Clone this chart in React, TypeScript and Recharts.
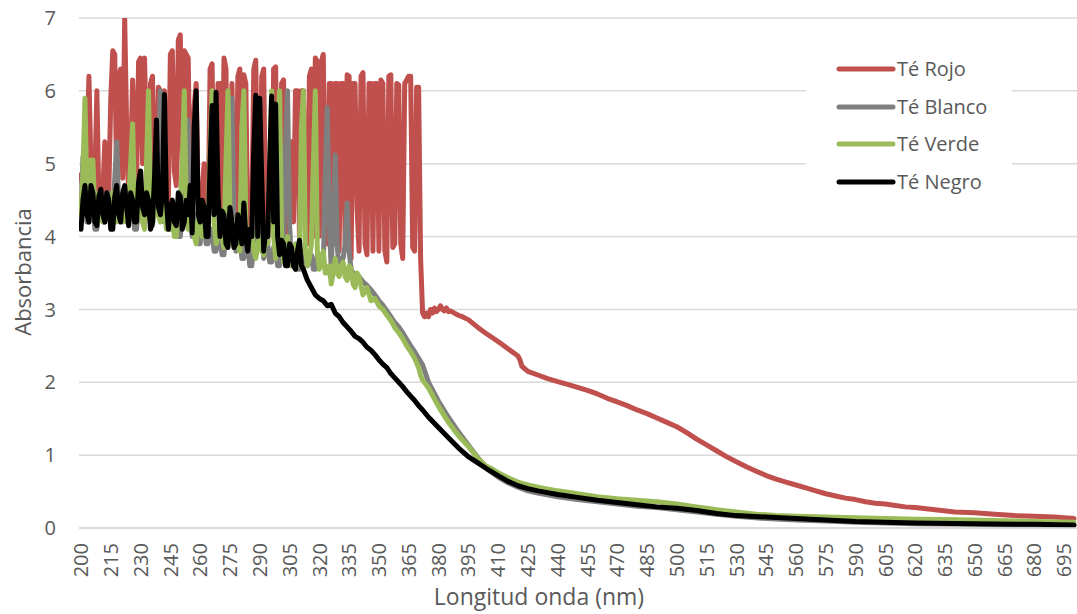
import React from 'react';
import { LineChart, Line, XAxis, YAxis, CartesianGrid, Legend } from 'recharts';

const FONT = '"Open Sans", "Liberation Sans", sans-serif';
const TEXT = '#595959';
const GRID = '#d9d9d9';

// Noisy UV region: one reading per nm starting at 200 nm (rows of ten: 200-209, 210-219, ...)
const noisyStartNm = 200;

const rojoNoisy = [
  4.85, 4.6, 4.5, 5.2, 6.2, 5.0, 4.4, 4.8, 6.0, 4.5,
  4.4, 4.6, 5.3, 4.7, 4.6, 5.9, 6.55, 6.5, 4.7, 6.2,
  6.3, 4.8, 7.0, 5.5, 4.5, 5.0, 6.15, 5.3, 4.8, 6.4,
  6.45, 5.0, 6.45, 5.2, 4.6, 6.1, 6.2, 4.9, 4.7, 6.05,
  6.0, 4.8, 6.0, 5.1, 4.5, 6.5, 6.55, 4.9, 4.7, 6.7,
  6.77, 4.8, 6.55, 6.5, 6.45, 4.6, 4.4, 5.8, 6.1, 4.5,
  4.3, 4.6, 5.0, 4.5, 4.2, 6.3, 6.37, 4.5, 4.4, 6.1,
  6.1, 4.3, 6.45, 6.3, 4.2, 4.4, 6.1, 4.5, 4.1, 6.2,
  6.3, 4.3, 6.22, 6.1, 4.0, 4.5, 4.3, 6.3, 6.42, 4.2,
  4.0, 6.2, 6.3, 4.1, 3.9, 4.6, 4.2, 6.3, 6.33, 4.1,
  4.0, 6.1, 6.15, 4.0, 3.9, 4.3, 5.3, 4.2, 6.0, 6.0,
  4.0, 6.0, 6.0, 4.1, 3.9, 6.2, 6.3, 4.0, 6.45, 6.4,
  4.0, 6.4, 6.5, 4.0, 3.9, 6.1, 6.1, 3.9, 6.1, 6.1,
  3.8, 6.1, 6.1, 3.9, 6.22, 6.2, 3.7, 6.1, 6.1, 4.4,
  3.8, 6.2, 6.25, 3.9, 3.75, 6.1, 6.1, 3.8, 6.1, 6.1,
  3.8, 6.15, 6.1, 3.8, 3.65, 6.2, 6.22, 3.85, 3.9, 6.1,
  6.08, 3.9, 3.7, 6.1, 6.15, 6.2, 6.2, 3.85, 3.8, 6.05,
  6.05,
];

const blancoNoisy = [
  4.3, 5.1, 4.6, 4.2, 4.2, 4.5, 4.5, 4.1, 4.1, 4.4,
  4.4, 4.2, 4.2, 4.6, 4.6, 4.2, 4.2, 4.8, 5.3, 4.4,
  4.3, 4.5, 4.6, 4.2, 4.2, 4.4, 4.4, 4.1, 4.1, 4.5,
  4.5, 4.2, 4.2, 4.6, 4.6, 4.2, 4.15, 4.4, 4.4, 5.2,
  6.0, 4.6, 4.2, 4.4, 4.4, 4.1, 4.1, 4.3, 4.3, 4.0,
  4.0, 4.4, 4.4, 5.0, 5.6, 4.3, 4.0, 4.3, 4.3, 3.9,
  3.9, 4.2, 4.2, 3.9, 3.9, 4.1, 4.1, 3.8, 3.8, 4.0,
  4.0, 3.75, 3.75, 4.1, 4.1, 5.0, 5.9, 4.2, 3.8, 4.0,
  4.0, 3.7, 3.7, 3.9, 3.9, 3.6, 3.6, 3.95, 3.95, 5.0,
  5.9, 4.2, 3.7, 3.9, 3.9, 3.65, 3.65, 3.85, 3.85, 3.6,
  3.6, 3.9, 3.9, 5.2, 6.0, 4.2, 3.6, 3.85, 3.85, 3.55,
  3.55, 3.8, 3.8, 3.6, 3.6, 3.75, 3.75, 3.55, 3.55, 3.75,
  3.75, 3.6, 3.6, 4.8, 5.77, 4.2, 3.55, 4.3, 5.12, 3.9,
  3.5, 3.7, 3.7, 3.9, 4.46, 3.8, 3.55, 3.5, 3.45, 3.45,
];

const verdeNoisy = [
  4.3, 4.9, 5.9, 4.5, 4.4, 5.05, 5.05, 4.3, 4.2, 4.6,
  4.5, 4.2, 4.2, 4.5, 4.4, 4.2, 4.6, 4.4, 4.2, 4.5,
  4.5, 4.2, 4.3, 4.6, 4.5, 5.0, 5.55, 4.4, 4.2, 4.5,
  4.4, 4.2, 4.1, 5.0, 6.0, 4.5, 4.2, 4.3, 4.9, 4.3,
  4.2, 4.5, 4.4, 4.1, 4.1, 4.4, 4.3, 4.0, 4.0, 4.4,
  4.5, 5.0, 6.0, 4.4, 4.1, 4.2, 4.3, 4.0, 3.9, 4.2,
  4.4, 4.0, 4.0, 4.3, 4.2, 5.2, 6.0, 4.2, 3.9, 4.0,
  4.1, 4.0, 3.85, 5.0, 6.0, 4.3, 3.9, 4.0, 4.2, 3.9,
  3.8, 5.5, 6.0, 4.2, 3.85, 4.0, 4.1, 3.8, 3.7, 3.9,
  4.0, 3.8, 3.75, 3.95, 3.9, 5.0, 6.0, 4.0, 3.7, 5.5,
  6.0, 4.0, 3.65, 3.8, 4.0, 3.7, 3.6, 3.8, 3.9, 3.6,
  3.7, 5.5, 6.0, 3.8, 3.6, 3.7, 3.9, 5.0, 6.0, 3.8,
  3.55, 3.7, 3.8, 3.5, 3.5, 3.6, 3.35, 3.5, 3.7, 3.5,
  3.45, 3.6, 3.65, 3.45, 3.4, 3.6, 3.55, 3.35, 3.3, 3.5,
];

const negroNoisy = [
  4.1, 4.5, 4.7, 4.3, 4.2, 4.7, 4.6, 4.2, 4.15, 4.55,
  4.65, 4.3, 4.2, 4.6, 4.5, 4.1, 4.1, 4.55, 4.7, 4.3,
  4.2, 4.6, 4.7, 4.4, 4.15, 4.6, 4.5, 4.2, 4.2, 4.75,
  4.9, 4.4, 4.3, 4.6, 4.5, 4.1, 4.2, 4.8, 5.6, 4.4,
  4.3, 4.6, 5.95, 4.5, 4.1, 4.4, 4.5, 4.2, 4.15, 4.6,
  4.55, 4.1, 4.2, 4.5, 4.3, 4.7, 4.05, 5.5, 6.0, 4.3,
  4.2, 4.5, 4.4, 4.0, 4.0, 5.0, 5.8, 4.3, 5.98, 4.6,
  4.0, 4.35, 4.3, 3.9, 3.85, 4.4, 4.2, 3.85, 3.9, 4.3,
  4.15, 3.9, 4.46, 4.0, 3.8, 4.1, 4.0, 5.2, 5.94, 4.0,
  5.9, 4.8, 3.8, 4.1, 4.0, 5.0, 5.93, 4.2, 5.82, 4.0,
  3.75, 3.95, 3.9, 3.6, 3.6, 3.9, 3.85, 3.6, 3.55, 3.8,
  3.95, 3.6,
];

// Smoother part of each spectrum: [wavelength nm, absorbance]
const rojoTail: [number, number][] = [
  [371, 3.7], [372, 2.95], [373, 2.9], [374, 2.95], [375, 2.9], [376, 3.0], [377, 2.95], [378, 3.02],
  [379, 2.97], [380, 3.0], [381, 3.05], [382, 3.0], [383, 2.98], [384, 3.02], [385, 2.97], [386, 2.98],
  [388, 2.95], [390, 2.92], [392, 2.9], [395, 2.86], [400, 2.75], [404, 2.67], [410, 2.56], [415, 2.46],
  [419, 2.38], [420, 2.36], [421, 2.31], [422, 2.22], [425, 2.15], [430, 2.1], [435, 2.05], [440, 2.01],
  [445, 1.97], [450, 1.93], [455, 1.89], [460, 1.84], [465, 1.78], [470, 1.73], [475, 1.68], [480, 1.62],
  [485, 1.57], [490, 1.51], [495, 1.45], [500, 1.39], [505, 1.31], [510, 1.22], [515, 1.14], [520, 1.06],
  [525, 0.98], [530, 0.91], [535, 0.84], [540, 0.78], [545, 0.72], [550, 0.67], [555, 0.63], [560, 0.59],
  [565, 0.55], [570, 0.51], [575, 0.47], [580, 0.44], [585, 0.41], [590, 0.39], [595, 0.36], [600, 0.34],
  [605, 0.33], [610, 0.31], [615, 0.29], [620, 0.28], [630, 0.25], [640, 0.22], [650, 0.21], [660, 0.19],
  [670, 0.17], [680, 0.16], [690, 0.15], [700, 0.13],
];

const blancoTail: [number, number][] = [
  [340, 3.45], [342, 3.38], [344, 3.33], [346, 3.27], [348, 3.2], [350, 3.12], [352, 3.06], [354, 2.98],
  [356, 2.9], [358, 2.82], [360, 2.76], [362, 2.68], [364, 2.59], [366, 2.5], [368, 2.42], [370, 2.33],
  [372, 2.24], [375, 2.0], [380, 1.74], [385, 1.52], [390, 1.32], [395, 1.14], [400, 0.96], [405, 0.8],
  [410, 0.7], [415, 0.62], [420, 0.56], [425, 0.51], [430, 0.48], [440, 0.43], [450, 0.39], [460, 0.36],
  [470, 0.33], [480, 0.3], [490, 0.28], [500, 0.25], [510, 0.22], [520, 0.19], [530, 0.16], [545, 0.13],
  [560, 0.11], [575, 0.095], [590, 0.08], [605, 0.07], [620, 0.06], [650, 0.05], [680, 0.04], [700, 0.035],
];

const verdeTail: [number, number][] = [
  [340, 3.45], [342, 3.2], [344, 3.3], [346, 3.12], [348, 3.15], [350, 3.05], [352, 3.0], [354, 2.92],
  [356, 2.85], [358, 2.75], [360, 2.68], [362, 2.6], [364, 2.5], [366, 2.42], [368, 2.33], [370, 2.2],
  [371, 2.1], [372, 2.03], [375, 1.92], [380, 1.67], [385, 1.45], [390, 1.27], [395, 1.12], [400, 0.95],
  [404, 0.85], [407, 0.81], [410, 0.76], [415, 0.69], [420, 0.63], [425, 0.59], [430, 0.56], [440, 0.51],
  [450, 0.47], [460, 0.43], [470, 0.4], [480, 0.38], [490, 0.36], [500, 0.33], [505, 0.31], [510, 0.29],
  [515, 0.27], [520, 0.25], [530, 0.22], [540, 0.19], [550, 0.17], [560, 0.16], [575, 0.15], [590, 0.14],
  [605, 0.13], [620, 0.12], [635, 0.115], [650, 0.11], [665, 0.1], [680, 0.09], [700, 0.08],
];

const negroTail: [number, number][] = [
  [312, 3.55], [314, 3.4], [316, 3.3], [318, 3.2], [320, 3.15], [322, 3.12], [324, 3.05], [326, 3.07],
  [328, 2.95], [330, 2.9], [332, 2.82], [334, 2.76], [336, 2.7], [338, 2.63], [340, 2.6], [342, 2.55],
  [344, 2.48], [346, 2.44], [348, 2.38], [350, 2.31], [352, 2.25], [354, 2.2], [356, 2.12], [358, 2.06],
  [360, 2.0], [362, 1.94], [364, 1.87], [366, 1.81], [368, 1.75], [370, 1.68],
  [372, 1.62], [375, 1.52], [380, 1.38], [385, 1.24], [390, 1.1], [395, 0.98], [400, 0.89], [405, 0.8],
  [410, 0.72], [415, 0.64], [420, 0.58], [425, 0.54], [430, 0.51], [440, 0.46], [450, 0.42], [460, 0.38],
  [470, 0.35], [480, 0.32], [490, 0.29], [500, 0.27], [510, 0.24], [520, 0.2], [530, 0.17], [545, 0.15],
  [560, 0.13], [575, 0.11], [590, 0.09], [605, 0.08], [620, 0.07], [650, 0.06], [680, 0.05], [700, 0.04],
];

const xTicks = [
  200, 215, 230, 245, 260, 275, 290, 305, 320, 335, 350, 365, 380, 395, 410, 425, 440,
  455, 470, 485, 500, 515, 530, 545, 560, 575, 590, 605, 620, 635, 650, 665, 680, 695,
];
const yTicks = [0, 1, 2, 3, 4, 5, 6, 7];

const seriesNames = ['Té Rojo', 'Té Blanco', 'Té Verde', 'Té Negro'];
const seriesColors = ['#C0504D', '#7F7F7F', '#9BBB59', '#000000'];

const build = (noisy: number[], tail: [number, number][]) => [
  ...noisy.map((a, i) => ({ nm: noisyStartNm + i, a })),
  ...tail.map(([nm, a]) => ({ nm, a })),
];

const seriesData = [
  build(rojoNoisy, rojoTail),
  build(blancoNoisy, blancoTail),
  build(verdeNoisy, verdeTail),
  build(negroNoisy, negroTail),
];

const XTick = (props: any) => {
  const { x, y, payload } = props;
  return (
    <text
      x={x}
      y={y}
      transform={`rotate(-90, ${x}, ${y})`}
      textAnchor="end"
      dy="0.36em"
      fill={TEXT}
      fontSize={20}
      fontFamily={FONT}
    >
      {payload.value}
    </text>
  );
};

const YTick = (props: any) => {
  const { x, y, payload } = props;
  return (
    <text x={x} y={y} textAnchor="end" dy="0.36em" fill={TEXT} fontSize={20} fontFamily={FONT}>
      {payload.value}
    </text>
  );
};

const LegendBox = () => (
  <div style={{ position: 'relative', width: 206, height: 150, background: '#fff' }}>
    {seriesNames.map((name, i) => (
      <div
        key={name}
        style={{
          position: 'absolute',
          left: 28,
          top: 19.3 + i * 37.5 - 15,
          height: 30,
          display: 'flex',
          alignItems: 'center',
        }}
      >
        <svg width={62} height={30} style={{ display: 'block' }}>
          <line x1={5} y1={15} x2={59} y2={15} stroke={seriesColors[i]} strokeWidth={5} strokeLinecap="round" />
        </svg>
        <span
          style={{
            fontFamily: FONT,
            fontSize: 20,
            color: TEXT,
            lineHeight: '30px',
            marginLeft: 1,
            whiteSpace: 'nowrap',
          }}
        >
          {name}
        </span>
      </div>
    ))}
  </div>
);

export default function App() {
  return (
    <div style={{ position: 'absolute', left: 0, top: 0, width: 1077, height: 614, background: '#fff' }}>
      <LineChart width={1077} height={614} margin={{ top: 18, right: 0, bottom: 0, left: 0 }}>
        <CartesianGrid vertical={false} stroke={GRID} strokeWidth={1.5} />
        <XAxis
          type="number"
          dataKey="nm"
          domain={[199, 701.5]}
          allowDataOverflow
          ticks={xTicks}
          interval={0}
          height={86}
          tickLine={false}
          tickSize={0}
          tickMargin={15}
          axisLine={{ stroke: GRID, strokeWidth: 1.5 }}
          tick={<XTick />}
          label={{
            content: () => (
              <text x={539} y={605} textAnchor="middle" fill={TEXT} fontSize={23} fontFamily={FONT}>
                Longitud onda (nm)
              </text>
            ),
          }}
        />
        <YAxis
          type="number"
          domain={[0, 7]}
          allowDataOverflow
          ticks={yTicks}
          interval={0}
          width={79}
          tickLine={false}
          tickSize={0}
          tickMargin={23}
          axisLine={false}
          tick={<YTick />}
          label={{
            content: () => (
              <text
                x={31}
                y={272}
                transform="rotate(-90, 31, 272)"
                textAnchor="middle"
                fill={TEXT}
                fontSize={22}
                fontFamily={FONT}
              >
                Absorbancia
              </text>
            ),
          }}
        />
        <Legend
          layout="vertical"
          align="center"
          verticalAlign="middle"
          wrapperStyle={{ left: 806, top: 50, width: 206, height: 150 }}
          content={() => <LegendBox />}
        />
        {seriesData.map((data, i) => (
          <Line
            key={seriesNames[i]}
            name={seriesNames[i]}
            data={data}
            dataKey="a"
            type="linear"
            stroke={seriesColors[i]}
            strokeWidth={5}
            strokeLinejoin="round"
            strokeLinecap="round"
            dot={false}
            activeDot={false}
            isAnimationActive={false}
          />
        ))}
      </LineChart>
    </div>
  );
}
